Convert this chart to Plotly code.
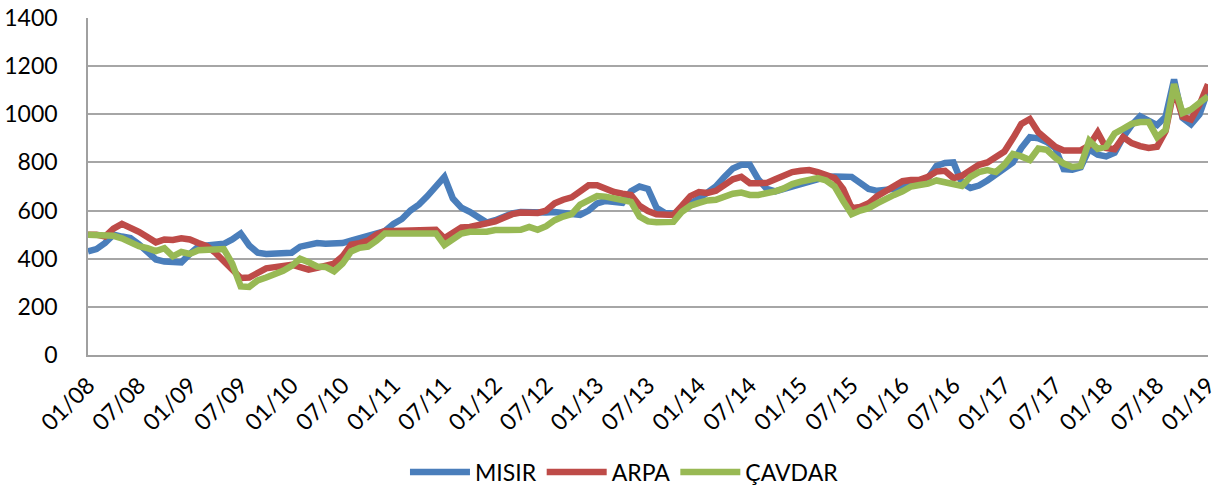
import plotly.graph_objects as go

# Monthly categories 01/08 .. 01/19
categories = [f"{m:02d}/{y:02d}" for y in range(8, 19) for m in range(1, 13)] + ["01/19"]
tick_labels = ["01/08", "07/08", "01/09", "07/09", "01/10", "07/10", "01/11", "07/11",
               "01/12", "07/12", "01/13", "07/13", "01/14", "07/14", "01/15", "07/15",
               "01/16", "07/16", "01/17", "07/17", "01/18", "07/18", "01/19"]

misir = [430, 440, 465, 500, 492, 486, 460, 425, 397, 388, 385, 385, 420, 450, 455, 458,
         462, 480, 505, 455, 425, 420, 420, 420, 425, 450, 460, 465, 462, 462, 465, 475,
         485, 495, 505, 515, 545, 565, 600, 625, 660, 700, 740, 650, 612, 595, 570, 550,
         560, 575, 588, 594, 592, 590, 592, 594, 588, 582, 582, 600, 630, 640, 636, 632,
         680, 700, 690, 612, 590, 588, 600, 630, 650, 672, 700, 740, 775, 790, 790, 730,
         690, 680, 690, 700, 710, 720, 730, 740, 742, 742, 740, 715, 690, 682, 684, 690,
         700, 712, 720, 735, 785, 798, 800, 715, 694, 704, 725, 750, 770, 800, 860, 905,
         900, 885, 860, 772, 770, 780, 855, 832, 825, 840, 905, 955, 992, 970, 955, 990,
         1145, 985, 958, 1000, 1100]

arpa = [500, 500, 492, 525, 545, 530, 512, 490, 468, 480, 478, 485, 480, 465, 452, 425,
        390, 355, 320, 322, 345, 360, 365, 368, 375, 365, 355, 362, 370, 380, 410, 458,
        465, 475, 500, 515, 515, 517, 520, 520, 520, 520, 485, 510, 530, 532, 540, 545,
        555, 570, 585, 592, 594, 590, 600, 630, 645, 655, 680, 705, 705, 690, 677, 670,
        665, 620, 598, 585, 582, 582, 620, 660, 677, 673, 682, 705, 730, 740, 714, 714,
        715, 730, 748, 760, 765, 768, 760, 748, 735, 690, 610, 615, 630, 660, 680, 700,
        722, 727, 728, 740, 762, 765, 735, 745, 770, 790, 800, 825, 845, 900, 960, 980,
        925, 895, 865, 850, 850, 850, 870, 925, 860, 855, 905, 880, 868, 860, 865, 930,
        1105, 990, 978, 1040, 1125]

cavdar = [500, 500, 500, 495, 485, 465, 452, 444, 432, 444, 410, 428, 420, 435, 438, 440,
          440, 380, 285, 283, 310, 322, 335, 350, 370, 400, 385, 368, 366, 348, 380, 430,
          445, 450, 475, 505, 505, 505, 505, 505, 505, 505, 457, 485, 505, 512, 512, 512,
          519, 519, 519, 520, 532, 520, 535, 560, 575, 585, 625, 645, 660, 658, 650, 648,
          636, 575, 555, 552, 552, 553, 595, 620, 632, 642, 645, 658, 670, 675, 665, 665,
          670, 680, 692, 710, 720, 728, 735, 725, 700, 640, 585, 600, 610, 630, 650, 665,
          680, 700, 706, 712, 725, 718, 705, 702, 740, 760, 768, 760, 790, 835, 825, 810,
          858, 852, 820, 795, 781, 785, 890, 856, 865, 920, 940, 960, 968, 968, 905, 935,
          1125, 1005, 1020, 1045, 1075]

series = [("MISIR", misir, "#4A7EBB"), ("ARPA", arpa, "#BE4B48"), ("ÇAVDAR", cavdar, "#98B954")]

fig = go.Figure()
for name, vals, color in series:
    fig.add_trace(go.Scatter(x=categories, y=vals, mode="lines", name=name,
                             line=dict(color=color, width=6.5)))

font = dict(family="Lato, 'Open Sans', sans-serif", size=23, color="#000000")
fig.update_layout(
    width=1220, height=488,
    margin=dict(l=88, r=12, t=18, b=133, autoexpand=False),
    paper_bgcolor="white", plot_bgcolor="white",
    font=font,
    showlegend=True,
    legend=dict(orientation="h", x=0.479, xanchor="center", y=-0.347, yanchor="middle",
                font=font, itemwidth=60, traceorder="normal"),
    xaxis=dict(type="category", range=[0, len(categories) - 1], tickmode="array",
               tickvals=tick_labels, ticktext=tick_labels, tickangle=-45,
               showgrid=False, showline=True, linecolor="#A0A0A0", linewidth=1.5,
               ticks="", tickfont=font, automargin=False, ticklabelstandoff=6,
               ticklabeloverflow="allow"),
    yaxis=dict(range=[0, 1400], dtick=200, showgrid=True, gridcolor="#A6A6A6", gridwidth=1.5,
               showline=True, linecolor="#A0A0A0", linewidth=1.5, ticks="",
               zeroline=False, tickfont=font, ticklabelstandoff=24, automargin=False,
               ticklabeloverflow="allow"),
)

fig.write_html("out.html",
               config={"displayModeBar": False},
               post_script="document.body.style.margin='0';document.body.style.overflow='hidden';")
